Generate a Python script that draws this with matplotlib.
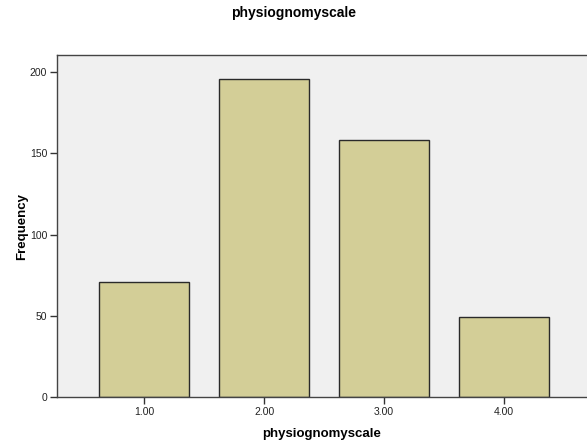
import matplotlib
matplotlib.use("Agg")
import matplotlib.pyplot as plt

# ============================================================
# Frequency bar chart of physiognomyscale (SPSS look)
# ============================================================

categories  = [1.0, 2.0, 3.0, 4.0]
tick_labels = ["1.00", "2.00", "3.00", "4.00"]
frequency   = [71, 196, 158, 49]
y_ticks     = [0, 50, 100, 150, 200]

plt.rcParams["font.family"] = ["Liberation Sans", "DejaVu Sans"]

fig = plt.figure(figsize=(5.87, 4.45), dpi=100)
ax = fig.add_axes([57 / 587, 48 / 445, 1 - 57 / 587, 342 / 445])
ax.set_facecolor("#f0f0f0")

ax.bar(categories, frequency, width=0.75, color="#d3ce97",
       edgecolor="#2a2a2a", linewidth=1.0, zorder=2)

ax.set_xlim(0.275, 4.69)
ax.set_ylim(0, 210.5)
ax.set_xticks(categories)
ax.set_xticklabels(tick_labels)
ax.set_yticks(y_ticks)

ax.tick_params(axis="both", direction="out", length=5, width=1,
               color="#333333", labelsize=7.5, labelcolor="#222222", pad=2)

for side in ["top", "left", "bottom"]:
    ax.spines[side].set_color("#444444")
    ax.spines[side].set_linewidth(1.0)
ax.spines["right"].set_visible(False)

ax.set_xlabel("physiognomyscale", fontsize=9.5, fontweight="bold", labelpad=8)
ax.set_ylabel("Frequency", fontsize=9.5, fontweight="bold", labelpad=1)
fig.text(0.5, 1 - 13 / 445, "physiognomyscale", ha="center", va="center",
         fontsize=10, fontweight="bold")

fig.savefig("out.png", dpi=100, facecolor="white")
